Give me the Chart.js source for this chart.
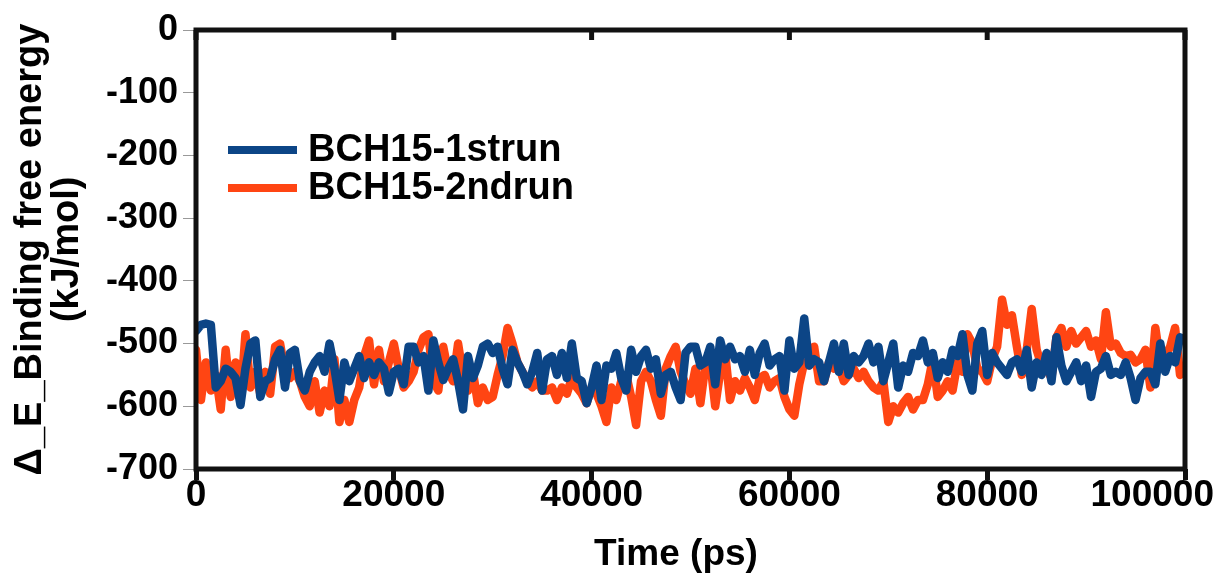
<!DOCTYPE html>
<html>
<head>
<meta charset="utf-8">
<script src="https://cdn.jsdelivr.net/npm/chart.js@4.4.1/dist/chart.umd.min.js"></script>
<style>
  html, body { margin: 0; padding: 0; background: #fff; }
  canvas { display: block; }
</style>
</head>
<body>
<canvas id="c" width="1218" height="581"></canvas>
<script>
// sampled every 500 ps, 0 .. 100000
const stepPs = 500;
const run1 = [
  -480,-470,-468,-470,-570,-560,-540,-545,-555,-598,
  -540,-500,-495,-585,-560,-555,-525,-510,-570,-515,
  -510,-560,-575,-545,-530,-520,-545,-500,-540,-590,
  -530,-560,-540,-520,-555,-530,-550,-530,-540,-578,
  -545,-540,-565,-505,-505,-530,-520,-575,-495,-530,
  -558,-540,-525,-560,-605,-520,-555,-535,-505,-500,
  -515,-505,-540,-565,-510,-530,-545,-565,-545,-515,
  -575,-525,-520,-550,-515,-555,-500,-555,-560,-595,
  -570,-535,-590,-535,-540,-515,-555,-575,-510,-545,
  -520,-510,-540,-525,-580,-550,-545,-570,-590,-515,
  -505,-505,-535,-530,-505,-565,-495,-525,-505,-525,
  -520,-545,-510,-550,-515,-500,-535,-525,-520,-575,
  -495,-540,-530,-460,-535,-525,-530,-560,-530,-500,
  -545,-500,-550,-520,-530,-520,-500,-530,-505,-560,
  -530,-500,-570,-535,-545,-515,-520,-495,-530,-515,
  -555,-530,-545,-510,-520,-485,-550,-575,-500,-480,
  -550,-515,-530,-540,-550,-530,-525,-545,-510,-570,
  -530,-550,-515,-560,-490,-535,-560,-545,-530,-560,
  -535,-585,-545,-540,-520,-550,-545,-550,-530,-555,
  -590,-555,-545,-545,-565,-500,-545,-520,-530,-490,
  -495
];
const run2 = [
  -510,-590,-530,-575,-550,-605,-510,-585,-530,-590,
  -485,-570,-545,-580,-545,-580,-505,-500,-545,-555,
  -545,-560,-585,-600,-560,-610,-575,-600,-525,-625,
  -590,-625,-590,-570,-520,-495,-565,-510,-560,-530,
  -500,-540,-570,-560,-545,-510,-490,-485,-560,-575,
  -505,-545,-560,-500,-550,-575,-545,-595,-570,-590,
  -585,-550,-520,-475,-500,-530,-545,-560,-570,-560,
  -575,-575,-570,-590,-570,-580,-555,-570,-580,-595,
  -570,-580,-600,-625,-570,-590,-560,-550,-585,-630,
  -560,-545,-560,-590,-615,-540,-520,-505,-545,-565,
  -580,-540,-595,-535,-530,-600,-545,-515,-590,-560,
  -575,-555,-570,-590,-555,-550,-570,-560,-555,-585,
  -605,-615,-565,-530,-535,-505,-560,-560,-530,-540,
  -535,-560,-550,-540,-555,-545,-560,-570,-575,-560,
  -625,-600,-610,-595,-585,-605,-590,-590,-565,-525,
  -585,-575,-560,-575,-530,-545,-485,-500,-540,-545,
  -560,-525,-505,-430,-470,-455,-505,-550,-510,-445,
  -510,-535,-540,-555,-490,-475,-505,-480,-500,-490,
  -480,-505,-495,-525,-450,-505,-500,-515,-520,-518,
  -530,-525,-510,-570,-475,-530,-520,-505,-475,-550,
  -540
];
const seriesNames = ['BCH15-1strun', 'BCH15-2ndrun'];
const seriesColors = ['#0c4586', '#ff4513'];
const xTicks = [0, 20000, 40000, 60000, 80000, 100000];
const yTicks = [0, -100, -200, -300, -400, -500, -600, -700];
const xTitle = 'Time (ps)';

const toPts = arr => arr.map((v, i) => ({ x: i * stepPs, y: v }));
const FONT = '"Liberation Sans", Arial, sans-serif';

const framePlugin = {
  id: 'frame',
  beforeDraw(chart) {
    const ctx = chart.ctx;
    ctx.save();
    ctx.fillStyle = '#fff';
    ctx.fillRect(0, 0, chart.width, chart.height);
    ctx.restore();
  },
  afterDatasetsDraw(chart) {
    const { ctx, chartArea: a, scales } = chart;
    ctx.save();
    ctx.strokeStyle = '#111';
    ctx.lineWidth = 5;
    ctx.strokeRect(a.left, a.top, a.right - a.left, a.bottom - a.top);
    // top inward tick marks
    xTicks.forEach(t => {
      const px = scales.x.getPixelForValue(t);
      ctx.beginPath();
      ctx.moveTo(px, a.top);
      ctx.lineTo(px, a.top + 10);
      ctx.stroke();
    });
    // x tick labels, kept inside the canvas
    ctx.fillStyle = '#000';
    ctx.font = 'bold 37px ' + FONT;
    ctx.textBaseline = 'middle';
    ctx.textAlign = 'center';
    xTicks.forEach(t => {
      let px = scales.x.getPixelForValue(t);
      const w = ctx.measureText(String(t)).width;
      if (px + w / 2 > chart.width - 4) px = chart.width - 4 - w / 2;
      ctx.fillText(String(t), px, a.bottom + 27);
    });
    // x title
    ctx.fillText(xTitle, 676, 555);
    // legend
    ctx.font = 'bold 38px ' + FONT;
    ctx.textAlign = 'left';
    seriesNames.forEach((n, i) => {
      const y = 150 + i * 38;
      ctx.strokeStyle = seriesColors[i];
      ctx.lineWidth = 8;
      ctx.beginPath();
      ctx.moveTo(228, y);
      ctx.lineTo(297, y);
      ctx.stroke();
      ctx.fillText(n, 308, y + 1);
    });
    ctx.restore();
  }
};

new Chart(document.getElementById('c'), {
  type: 'line',
  data: {
    datasets: [
      { label: seriesNames[0], data: toPts(run1), borderColor: seriesColors[0], borderWidth: 8.5, pointRadius: 0, tension: 0, borderJoinStyle: 'round', borderCapStyle: 'round' },
      { label: seriesNames[1], data: toPts(run2), borderColor: seriesColors[1], borderWidth: 8.5, pointRadius: 0, tension: 0, borderJoinStyle: 'round', borderCapStyle: 'round' }
    ]
  },
  options: {
    responsive: false,
    animation: false,
    layout: { padding: { left: 4, right: 33, top: 30, bottom: 0 } },
    plugins: { legend: { display: false }, tooltip: { enabled: false } },
    scales: {
      x: {
        type: 'linear', min: 0, max: 100000,
        afterBuildTicks: s => { s.ticks = xTicks.map(v => ({ value: v })); },
        afterFit: s => { s.height = 112; s.paddingLeft = 0; s.paddingRight = 0; },
        ticks: { display: false },
        grid: { drawOnChartArea: false, tickLength: 11, tickWidth: 5, tickColor: '#111' },
        border: { display: false }
      },
      y: {
        min: -700, max: 0,
        afterBuildTicks: s => { s.ticks = yTicks.map(v => ({ value: v })); },
        afterFit: s => { s.width = 192; s.paddingTop = 0; s.paddingBottom = 0; },
        ticks: { color: '#000', font: { family: FONT, size: 36, weight: 'bold' }, padding: 5 },
        grid: { drawOnChartArea: false, tickLength: 13, tickWidth: 1, tickColor: '#999' },
        border: { display: false },
        title: { display: true, text: ['Δ_E_Binding free energy', '(kJ/mol)'], color: '#000', font: { family: FONT, size: 38, weight: 'bold', lineHeight: 0.98 }, padding: { top: 8, bottom: 0 } }
      }
    }
  },
  plugins: [framePlugin]
});
</script>
</body>
</html>
